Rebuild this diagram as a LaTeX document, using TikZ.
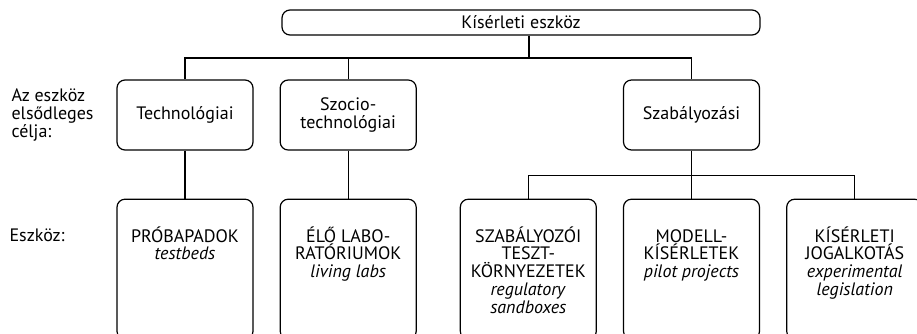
\documentclass[tikz,border=0pt]{standalone}
\usepackage{fontspec}
\setmainfont{PT Sans}
\usetikzlibrary{positioning}

\begin{document}
\begin{tikzpicture}[x=1pt, y=-1pt, line width=1.2pt,
  every node/.style={font=\fontsize{18}{17.7}\selectfont, inner sep=0pt},
  mainbox/.style={draw, rounded corners=8pt, minimum width=478pt, minimum height=25pt},
  purposebox/.style={draw, rounded corners=8pt, align=center, minimum width=136pt, minimum height=70pt},
  toolbox/.style={draw, rounded corners=8pt, minimum width=136pt, minimum height=140pt},
  tooltext/.style={align=center},
  sidelabel/.style={align=left}]
\clip (0,0) rectangle (917,333);

% top level
\node[mainbox] (top) at (521,22.5) {Kísérleti eszköz};

% purpose row
\node[purposebox] (tech) at (185,115) {Technológiai};
\node[purposebox, right=26pt of tech] (szocio) {Szocio-\\technológiai};
\node[purposebox] (szab) at (691.5,115) {Szabályozási};

% tool row
\node[toolbox, below=48pt of tech] (probe) {};
\node[toolbox, below=48pt of szocio] (livinglab) {};
\node[toolbox, below=48pt of szab] (pilot) {};
\node[toolbox, left=26pt of pilot] (sandbox) {};
\node[toolbox, right=26pt of pilot] (legis) {};

\node[tooltext, below=25pt of probe.north] (probetext) {\rule{0pt}{18pt}PRÓBAPADOK\\\textit{testbeds}};
\node[tooltext, below=25pt of livinglab.north] (livinglabtext) {\rule{0pt}{18pt}ÉLŐ LABO-\\RATÓRIUMOK\\\textit{living labs}};
\node[tooltext, below=25pt of sandbox.north] (sandboxtext) {\rule{0pt}{18pt}SZABÁLYOZÓI\\TESZT-\\KÖRNYEZETEK\\\textit{regulatory}\\\textit{sandboxes}};
\node[tooltext, below=25pt of pilot.north] (pilottext) {\rule{0pt}{18pt}MODELL-\\KÍSÉRLETEK\\\textit{pilot projects}};
\node[tooltext, below=25pt of legis.north] (legistext) {\rule{0pt}{18pt}KÍSÉRLETI\\JOGALKOTÁS\\\textit{experimental}\\\textit{legislation}};

% row labels
\node[sidelabel, anchor=west] (purpose) at (11,115) {Az eszköz\\elsődleges\\célja:};
\node[anchor=base west] (toollabel) at (9,241) {Eszköz:};

% connectors
\coordinate (split) at (529,58);
\coordinate (regsplit) at ([yshift=-25pt]szab.south);
\draw (top.south -| split) -- (split);
\draw (tech.north) -- (tech.north |- split) -- (szab.north |- split) -- (szab.north);
\draw (szocio.north) -- (szocio.north |- split);
\draw (tech.south) -- (probe.north);
\draw (szocio.south) -- (livinglab.north);
\draw (szab.south) -- (regsplit);
\draw (sandbox.north) -- (sandbox.north |- regsplit) -- (legis.north |- regsplit) -- (legis.north);
\draw (pilot.north) -- (pilot.north |- regsplit);
\end{tikzpicture}
\end{document}
